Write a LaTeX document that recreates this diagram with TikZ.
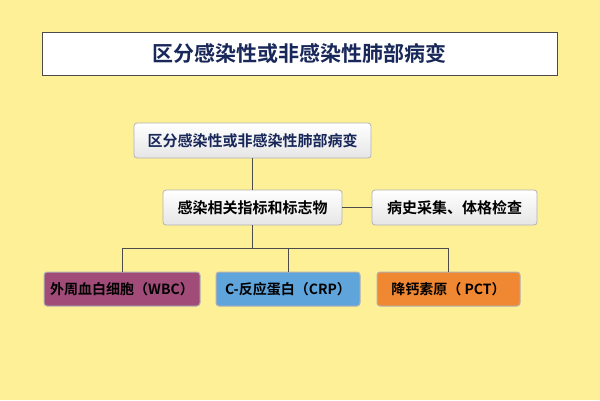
\documentclass[tikz,border=0pt]{standalone}
\usepackage{fontspec}
\setmainfont{Noto Sans CJK SC Bold}
\begin{document}
\begin{tikzpicture}[x=1pt,y=-1pt,
  box/.style={draw=gray!60,rounded corners=3pt,line width=0.8pt,top color=white,bottom color=gray!20,font=\fontsize{15}{17}\selectfont},
  cbox/.style={draw=gray!60,rounded corners=3pt,line width=1pt,font=\fontsize{14}{16}\selectfont},
  ln/.style={draw=black!70,line width=0.8pt}]
\definecolor{bg}{RGB}{254,240,150}
\definecolor{navy}{RGB}{25,40,90}
\definecolor{pur}{RGB}{160,75,120}
\definecolor{blu}{RGB}{95,165,220}
\definecolor{ora}{RGB}{240,135,50}
\fill[bg] (0,0) rectangle (600,400);
\useasboundingbox (0,0) rectangle (600,400);
\node[draw=black!70,fill=white,line width=0.8pt,minimum width=515pt,minimum height=43pt,text=navy,font=\fontsize{21}{24}\selectfont] (title) at (299.5,53.5) {区分感染性或非感染性肺部病变};
\node[box,text=navy,minimum width=237pt,minimum height=35pt] (top) at (252.5,140.5) {区分感染性或非感染性肺部病变};
\node[box,minimum width=179pt,minimum height=35pt] (mid) at (252.5,207.5) {感染相关指标和标志物};
\node[box,minimum width=165pt,minimum height=35pt] (rt) at (454.5,207.5) {病史采集、体格检查};
\node[cbox,fill=pur,minimum width=156pt,minimum height=34pt,inner sep=1pt] (wbc) at (122,289) {外周血白细胞（WBC）};
\node[cbox,fill=blu,minimum width=144pt,minimum height=34pt,inner sep=1pt] (crp) at (288,289) {C-反应蛋白（CRP）};
\node[cbox,fill=ora,minimum width=143pt,minimum height=34pt,inner sep=1pt] (pct) at (448.5,289) {降钙素原（ PCT）};
\coordinate (j) at (252.5,248);
\draw[ln] (top) -- (mid);
\draw[ln] (mid) -- (rt);
\draw[ln] (mid) -- (j);
\draw[ln] (j) -| (wbc.north);
\draw[ln] (j) -| (crp.north);
\draw[ln] (j) -| (pct.north);
\end{tikzpicture}
\end{document}
